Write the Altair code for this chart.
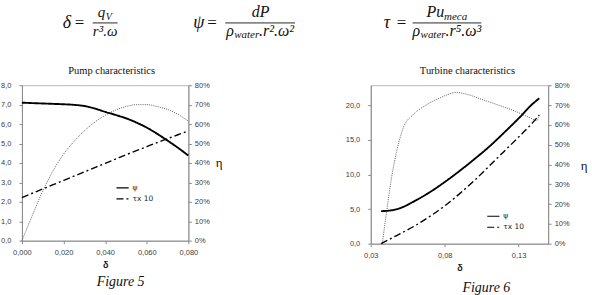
import altair as alt
import pandas as pd

# ---- Pump characteristics (Figure 5) ----
pump_delta = [0.000, 0.005, 0.010, 0.015, 0.020, 0.025, 0.030, 0.035, 0.040,
              0.045, 0.050, 0.055, 0.060, 0.065, 0.070, 0.075, 0.080]
pump_psi = [7.10, 7.08, 7.06, 7.04, 7.02, 6.99, 6.93, 6.80, 6.63,
            6.47, 6.30, 6.08, 5.82, 5.50, 5.15, 4.78, 4.38]
pump_tau10 = [2.22, 2.44, 2.66, 2.88, 3.10, 3.32, 3.54, 3.76, 3.98,
              4.20, 4.42, 4.63, 4.84, 5.05, 5.25, 5.45, 5.65]
pump_eta = [0.000, 0.130, 0.255, 0.360, 0.445, 0.510, 0.565, 0.610, 0.645,
            0.672, 0.690, 0.700, 0.700, 0.690, 0.675, 0.650, 0.615]

# ---- Turbine characteristics (Figure 6) ----
turb_delta = [0.037, 0.045, 0.050, 0.060, 0.070, 0.080, 0.090, 0.100,
              0.110, 0.120, 0.130, 0.140, 0.144]
turb_psi = [4.70, 4.85, 5.15, 6.20, 7.45, 8.90, 10.50, 12.20,
            14.00, 16.00, 18.10, 20.30, 21.00]
turb_tau10 = [0.00, 0.90, 1.45, 2.60, 3.95, 5.45, 7.20, 9.10,
              11.20, 13.30, 15.40, 17.60, 18.60]
turb_eta_delta = [0.0378, 0.0405, 0.0440, 0.0475, 0.0520, 0.0585, 0.0675, 0.0765,
                  0.0880, 0.0945, 0.1060, 0.1170, 0.1280, 0.1370, 0.1425, 0.1437]
turb_eta = [0.000, 0.150, 0.330, 0.465, 0.585, 0.650, 0.700, 0.735,
            0.763, 0.755, 0.726, 0.698, 0.668, 0.638, 0.622, 0.648]

SERIES = ["ψ", "τx 10"]

SERIF = "Liberation Serif"
SANS = "Liberation Sans"


def comma_expr(decimals):
    return f"replace(format(datum.value, '.{decimals}f'), '.', ',')"


def text(t, x, y, ox, oy, size=14, font=SERIF, style="normal", weight="normal",
         align="left", baseline="alphabetic", color="#111111"):
    return alt.Chart(pd.DataFrame({"t": [t]})).mark_text(
        align=align, baseline=baseline, font=font, fontSize=size,
        fontStyle=style, fontWeight=weight, color=color,
    ).encode(text="t:N", x=alt.value(x - ox), y=alt.value(y - oy))


def hline(x1, x2, y, ox, oy, width=0.9):
    return alt.Chart(pd.DataFrame({"t": [0]})).mark_rule(
        color="#111111", strokeWidth=width
    ).encode(x=alt.value(x1 - ox), x2=alt.value(x2 - ox), y=alt.value(y - oy))


def blank(x1, y1, ox, oy):
    return alt.Chart(pd.DataFrame({"t": [0]})).mark_rect(color="white").encode(
        x=alt.value(x1 - ox), x2=alt.value(x1 + 1 - ox),
        y=alt.value(y1 - oy), y2=alt.value(y1 + 1 - oy))


def panel(delta, psi, tau10, eta_delta, eta, x_domain, x_ticks, x_dec,
          y_domain, y_ticks, legend_x, legend_y):
    curves = pd.DataFrame({
        "delta": delta + delta,
        "value": psi + tau10,
        "series": [SERIES[0]] * len(delta) + [SERIES[1]] * len(delta),
    })
    eff = pd.DataFrame({"delta": eta_delta, "eta": eta})

    x_enc = alt.X(
        "delta:Q",
        scale=alt.Scale(domain=x_domain, nice=False, zero=False),
        axis=alt.Axis(values=x_ticks, labelExpr=comma_expr(x_dec), title="δ",
                      labelFlush=False, labelOverlap=False, labelPadding=5,
                      titlePadding=4, titleFont=SANS, titleFontSize=9,
                      titleFontWeight="bold", titleColor="#222222"),
    )
    y_enc = alt.Y("value:Q",
                  scale=alt.Scale(domain=y_domain, nice=False, zero=False),
                  axis=alt.Axis(orient="left", values=y_ticks, labelExpr=comma_expr(1),
                                title=None, labelPadding=8, labelFlush=False))
    dash = alt.StrokeDash(
        "series:N",
        scale=alt.Scale(domain=SERIES, range=[[1, 0], [7, 3, 2, 3]]),
        legend=alt.Legend(orient="none", legendX=legend_x, legendY=legend_y,
                          title=None, symbolType="stroke", symbolSize=150,
                          symbolStrokeWidth=1.2, labelFontSize=7.5,
                          labelFont="DejaVu Sans", labelColor="#222222",
                          rowPadding=-3, padding=0, labelOffset=3,
                          symbolStrokeColor="black"))

    psi_line = alt.Chart(curves).transform_filter(
        alt.datum.series == SERIES[0]
    ).mark_line(color="black", strokeWidth=1.9, interpolate="monotone").encode(
        x=x_enc, y=y_enc, strokeDash=dash)
    tau_line = alt.Chart(curves).transform_filter(
        alt.datum.series == SERIES[1]
    ).mark_line(color="black", strokeWidth=1.4, interpolate="monotone").encode(
        x=x_enc, y=y_enc, strokeDash=dash)

    eff_line = alt.Chart(eff).mark_line(
        color="#4a4a4a", strokeDash=[1, 1.2], strokeWidth=0.9, interpolate="monotone"
    ).encode(
        x=x_enc,
        y=alt.Y("eta:Q",
                scale=alt.Scale(domain=[0, 0.8], nice=False, zero=False),
                axis=alt.Axis(orient="right",
                              values=[0, 0.1, 0.2, 0.3, 0.4, 0.5, 0.6, 0.7, 0.8],
                              format=".0%", title=None, labelPadding=3,
                              labelFlush=False)),
    )
    lines = alt.layer(psi_line, tau_line)
    return eff_line, lines


# Left panel: plot area origin on the page at (21, 84)
LX, LY = 21, 84
p_eff, p_lines = panel(pump_delta, pump_psi, pump_tau10, pump_delta, pump_eta,
                       [0, 0.08], [0, 0.02, 0.04, 0.06, 0.08], 3,
                       [0, 8], [0, 1, 2, 3, 4, 5, 6, 7, 8], 94, 96)
left = alt.layer(
    p_eff, p_lines,
    blank(0, 0, LX, LY),
    text("Pump characteristics", 111, 70, LX, LY, size=10.5, align="center", baseline="middle"),
    text("η", 219, 162, LX, LY, size=13, align="center", baseline="middle"),
    text("Figure 5", 120, 285, LX, LY, size=14, style="italic", align="center"),
    # delta = q_V / (r^3 . omega)
    text("δ", 62, 27, LX, LY, size=18, style="italic"),
    text("=", 74, 26.5, LX, LY, size=17),
    text("q", 97, 16, LX, LY, size=15, style="italic"),
    text("V", 105, 18.5, LX, LY, size=10, style="italic"),
    hline(92, 117, 21.5, LX, LY),
    text("r³.ω", 104.5, 34.5, LX, LY, size=15, style="italic", align="center"),
    # psi = dP / (rho_water . r^2 . omega^2)
    text("ψ", 193, 27, LX, LY, size=18, style="italic"),
    text("=", 207, 26.5, LX, LY, size=17),
    text("dP", 260.5, 16, LX, LY, size=16, style="italic", align="center"),
    hline(225, 295, 21.5, LX, LY),
    text("ρ", 226, 34.5, LX, LY, size=16, style="italic"),
    text("water", 234, 37, LX, LY, size=11, style="italic"),
    text(".r².ω²", 259, 34.5, LX, LY, size=16, style="italic"),
).resolve_scale(y="independent").properties(width=167, height=156)

# Right panel: plot area origin on the page at (371, 84)
RX, RY = 371, 84
t_eff, t_lines = panel(turb_delta, turb_psi, turb_tau10, turb_eta_delta, turb_eta,
                       [0.03, 0.15], [0.03, 0.08, 0.13], 2,
                       [0, 22.9], [0, 5, 10, 15, 20], 116, 124.5)
right = alt.layer(
    t_eff, t_lines,
    blank(591, 294, RX, RY),
    text("Turbine characteristics", 468, 70, RX, RY, size=10.5, align="center", baseline="middle"),
    text("η", 585, 165, RX, RY, size=13, align="center", baseline="middle"),
    text("Figure 6", 487, 291.5, RX, RY, size=14, style="italic", align="center"),
    # tau = Pu_meca / (rho_water . r^5 . omega^3)
    text("τ", 384, 27, RX, RY, size=18, style="italic"),
    text("=", 397, 26.5, RX, RY, size=17),
    text("Pu", 427, 16, RX, RY, size=16, style="italic"),
    text("meca", 444.5, 18.5, RX, RY, size=11, style="italic"),
    hline(413, 482, 21.5, RX, RY),
    text("ρ", 413, 34.5, RX, RY, size=16, style="italic"),
    text("water", 421, 37, RX, RY, size=11, style="italic"),
    text(".r⁵.ω³", 446, 34.5, RX, RY, size=16, style="italic"),
).resolve_scale(y="independent").properties(width=178, height=159)

chart = alt.hconcat(left, right, spacing=183, bounds="flush").resolve_scale(
    strokeDash="independent"
).resolve_legend(
    strokeDash="independent"
).properties(
    padding=0, background="white"
).configure_view(
    stroke="#b8b8b8", strokeWidth=1
).configure_axis(
    grid=False, domainColor="#8a8a8a", tickColor="#8a8a8a", tickSize=3,
    labelFont=SANS, labelFontSize=7.5, labelColor="#404040",
)

chart.save("out.html", embed_options={"renderer": "svg", "actions": False})
